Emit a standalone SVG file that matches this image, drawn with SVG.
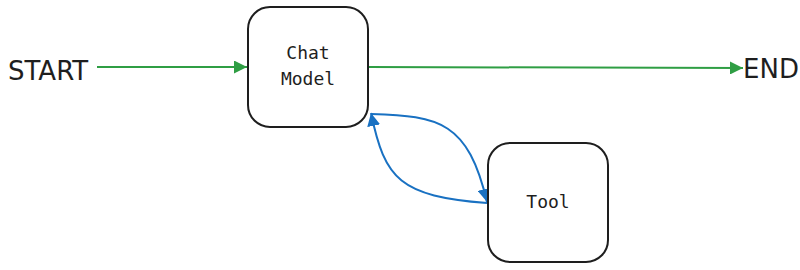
<svg xmlns="http://www.w3.org/2000/svg" width="800" height="270" viewBox="0 0 800 270">
<style>
.box{fill:#fff;stroke:#1e1e1e;stroke-width:2}
.lbl{font-family:"DejaVu Sans Mono","Liberation Mono",monospace;font-size:18px;fill:#1e1e1e;text-anchor:middle}
.term{font-family:"DejaVu Sans","Liberation Sans",sans-serif;font-size:26px;fill:#1e1e1e}
.g{stroke:#2f9e44;stroke-width:2;fill:none}
.b{stroke:#1971c2;stroke-width:2;fill:none}
</style>
<defs>
<marker id="ab" viewBox="0 0 10 10" refX="10" refY="5" markerWidth="13" markerHeight="13" orient="auto" markerUnits="userSpaceOnUse">
<path d="M0,0 L10,5 L0,10 Z" fill="#1971c2"/>
</marker>
<marker id="ag2" viewBox="0 0 10 10" refX="10" refY="5" markerWidth="13" markerHeight="13" orient="auto" markerUnits="userSpaceOnUse">
<path d="M0,0 L10,5 L0,10 Z" fill="#2f9e44"/>
</marker>
</defs>
<g id="connectors">
<path class="g" d="M97,67 L247,67" marker-end="url(#ag2)"/>
<path class="g" d="M369,67 L743,68" marker-end="url(#ag2)"/>
<path class="b" d="M371,114 C440,116 468,122 487,202" marker-end="url(#ab)"/>
<path class="b" d="M487,203 C400,196 385,180 371,113" marker-end="url(#ab)"/>
</g>
<g id="start"><text class="term" x="8" y="80">START</text></g>
<g id="end"><text class="term" x="743" y="78">END</text></g>
<g id="chat-model">
<rect class="box" x="248" y="7" width="120" height="120" rx="22"/>
<text class="lbl" x="308" y="59">Chat</text>
<text class="lbl" x="308" y="85">Model</text>
</g>
<g id="tool">
<rect class="box" x="488" y="143" width="120" height="119" rx="22"/>
<text class="lbl" x="548" y="208">Tool</text>
</g>
</svg>
